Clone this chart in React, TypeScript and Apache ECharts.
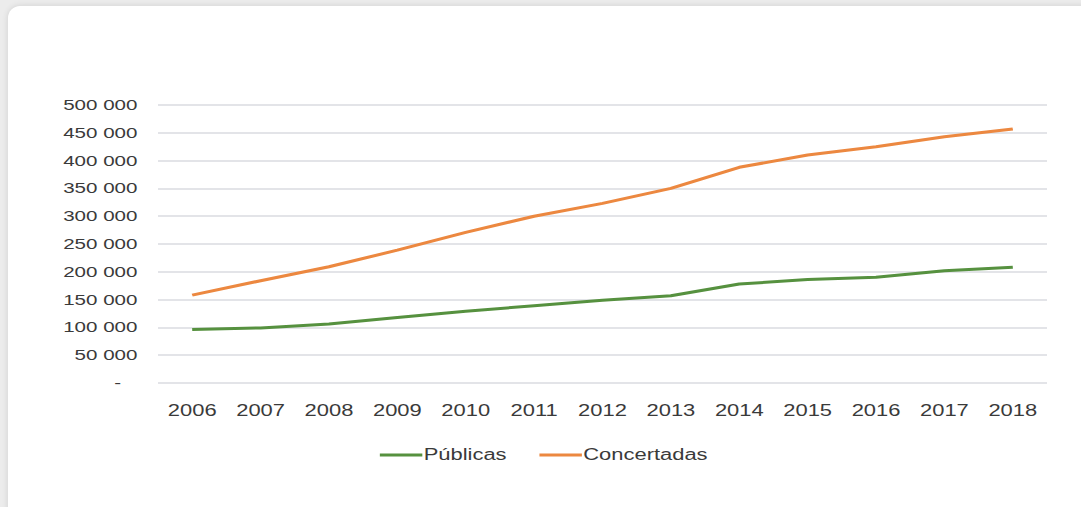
import React, { useEffect, useRef } from "react";
import * as echarts from "echarts";

const years = ["2006","2007","2008","2009","2010","2011","2012","2013","2014","2015","2016","2017","2018"];
const publicas = [96000, 99000, 106000, 118000, 129000, 139000, 149000, 157000, 178000, 186000, 190000, 202000, 208000];
const concertadas = [158000, 184000, 209000, 239000, 271000, 300000, 323000, 350000, 388000, 410000, 425000, 443000, 457000];

// the reference picture is horizontally stretched; render narrower and stretch
const W = 789;
const SX = 1081 / W;

function fmt(v: number): string {
  if (v === 0) return "{d|-}";
  const s = String(Math.round(v));
  return s.replace(/\B(?=(\d{3})+(?!\d))/g, " ");
}

export default function App() {
  const ref = useRef<HTMLDivElement>(null);
  useEffect(() => {
    document.body.style.margin = "0";
    const chart = echarts.init(ref.current!, null, { renderer: "svg" });
    const font = "'Liberation Sans', Arial, sans-serif";
    chart.setOption({
      animation: false,
      textStyle: { fontFamily: font },
      grid: { left: 158 / SX, right: 34 / SX, top: 105, bottom: 124, containLabel: false },
      xAxis: {
        type: "category",
        data: years,
        boundaryGap: true,
        axisLine: { show: false },
        axisTick: { show: false },
        axisLabel: { color: "#3a3a3a", fontSize: 16, margin: 20, fontFamily: font },
      },
      yAxis: {
        type: "value",
        min: 0,
        max: 500000,
        interval: 50000,
        axisLine: { show: false },
        axisTick: { show: false },
        splitLine: { lineStyle: { color: "#dadbe0", width: 1.5 } },
        axisLabel: {
          color: "#3a3a3a",
          fontSize: 15,
          margin: 15,
          fontFamily: font,
          formatter: fmt,
          rich: { d: { padding: [0, 12, 0, 0], fontSize: 15, color: "#3a3a3a" } },
        },
      },
      legend: {
        top: 442,
        left: 373 / SX,
        itemWidth: 31,
        itemHeight: 3,
        itemGap: 24,
        icon: "rect",
        textStyle: { color: "#3a3a3a", fontSize: 16, fontFamily: font, padding: [0, 0, 0, -4] },
        data: ["Públicas", "Concertadas"],
      },
      series: [
        {
          name: "Públicas",
          type: "line",
          data: publicas,
          showSymbol: false,
          symbol: "none",
          lineStyle: { color: "#56913f", width: 3 },
          itemStyle: { color: "#56913f" },
        },
        {
          name: "Concertadas",
          type: "line",
          data: concertadas,
          showSymbol: false,
          symbol: "none",
          lineStyle: { color: "#ec8840", width: 3 },
          itemStyle: { color: "#ec8840" },
        },
      ],
    });
    return () => chart.dispose();
  }, []);
  return (
    <div style={{ position: "relative", width: 1081, height: 507, background: "#ececec", overflow: "hidden" }}>
      <div
        style={{
          position: "absolute",
          left: 8,
          top: 6,
          width: 1100,
          height: 540,
          background: "#ffffff",
          borderRadius: 12,
          boxShadow: "0 0 6px rgba(0,0,0,0.12)",
        }}
      />
      <div
        ref={ref}
        style={{
          position: "absolute",
          left: 0,
          top: 0,
          width: W,
          height: 507,
          transform: `scaleX(${SX})`,
          transformOrigin: "0 0",
        }}
      />
    </div>
  );
}
